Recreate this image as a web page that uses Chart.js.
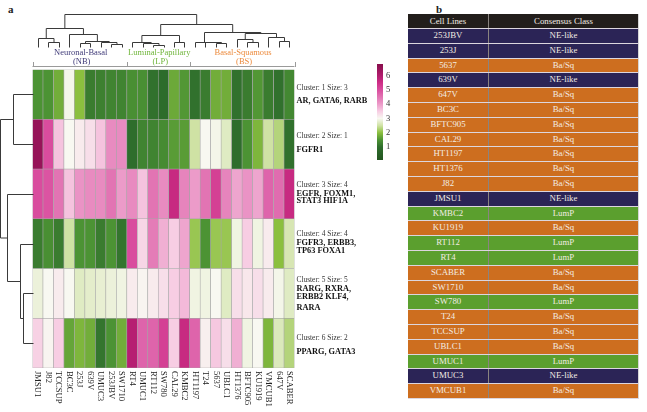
<!DOCTYPE html>
<html>
<head>
<meta charset="utf-8">
<script src="https://cdn.jsdelivr.net/npm/chart.js@4.4.0/dist/chart.umd.min.js"></script>
<style>
  body { margin: 0; width: 647px; height: 412px; background: #fff; position: relative; overflow: hidden; font-family: "Liberation Serif", serif; }
  #heat { position: absolute; left: 0; top: 0; }
  #bar { position: absolute; left: 372px; top: 55px; }
  .panel { position: absolute; font-weight: bold; font-size: 11px; color: #222; }
  #tbl { position: absolute; left: 408px; top: 14px; width: 231px; border-collapse: collapse; font-size: 8.8px; color: #f3ede4; table-layout: fixed; border-right: 1px solid #d6d6d6; }
  #tbl th, #tbl td { padding: 0; text-align: center; font-weight: normal; border-bottom: 1px solid #dcd6de; height: 13.8px; line-height: 13.8px; }
  #tbl th { background: #221e1b; height: 14px; line-height: 14px; }
  #tbl td:first-child, #tbl th:first-child { border-right: 1px solid #8a8480; width: 80px; }
</style>
</head>
<body>
<div class="panel" style="left:8px;top:3px">a</div>
<div class="panel" style="left:436px;top:3px">b</div>
<canvas id="heat" width="410" height="412"></canvas>
<canvas id="bar" width="30" height="115"></canvas>
<table id="tbl"></table>
<script>
'use-strict'

// heatmap columns (dendrogram order)
const cellLines = ['JMSU1', 'J82', 'TCCSUP', 'BC3C', '253J', '639V', 'UMUC3', '253JBV', 'SW1710',
    'RT4', 'UMUC1', 'RT112', 'SW780', 'CAL29', 'KMBC2',
    'HT1197', 'T24', '5637', 'UBLC1', 'HT1376', 'BFTC905', 'KU1919', 'VMCUB1', '647V', 'SCABER']

// one array per gene cluster (row)
const cluster1 = [1.5, 1.5, 1.8, 2.95, 2.0, 1.2, 1.25, 1.3, 1.3, 1.45, 1.45, 1.05, 0.95, 1.75, 1.55, 1.05, 1.2, 1.8, 1.8, 1.05, 1.2, 1.55, 1.2, 1.05, 1.35]
const cluster2 = [6.5, 5.0, 3.6, 3.0, 3.15, 3.3, 3.6, 4.2, 4.2, 1.0, 1.3, 1.3, 1.4, 1.6, 1.6, 2.5, 3.0, 2.95, 2.7, 1.0, 1.5, 1.9, 2.5, 2.3, 1.05]
const cluster3 = [5.0, 4.9, 4.5, 3.6, 4.1, 4.2, 4.2, 4.5, 4.0, 4.2, 3.6, 4.5, 4.2, 5.6, 4.3, 4.0, 4.5, 5.2, 4.3, 3.9, 4.1, 3.9, 4.7, 4.6, 5.6]
const cluster4 = [1.2, 1.45, 1.2, 2.5, 1.5, 1.5, 1.2, 1.5, 1.1, 5.0, 3.4, 4.4, 3.8, 3.5, 3.9, 2.1, 1.5, 2.1, 2.1, 2.9, 3.5, 2.9, 3.15, 2.0, 2.6]
const cluster5 = [2.85, 3.0, 3.15, 3.0, 2.7, 2.75, 2.8, 2.85, 2.9, 3.15, 3.05, 3.15, 3.3, 3.5, 3.7, 2.9, 2.9, 3.0, 2.7, 3.3, 3.2, 3.3, 3.15, 2.95, 2.7]
const cluster6 = [3.45, 3.05, 3.5, 1.7, 1.9, 1.8, 1.1, 1.5, 1.8, 5.9, 4.7, 4.7, 5.2, 3.5, 5.6, 4.7, 3.1, 3.55, 3.3, 3.8, 2.9, 3.0, 1.9, 2.65, 2.3]
const clusters = [cluster1, cluster2, cluster3, cluster4, cluster5, cluster6]

const clusterTitles = ['Cluster: 1 Size: 3', 'Cluster: 2 Size: 1', 'Cluster: 3 Size: 4',
    'Cluster: 4 Size: 4', 'Cluster: 5 Size: 5', 'Cluster: 6 Size: 2']
const clusterGenes = [['AR, GATA6, RARB'], ['FGFR1'], ['EGFR, FOXM1,', 'STAT3 HIF1A'],
    ['FGFR3, ERBB3,', 'TP63 FOXA1'], ['RARG, RXRA,', 'ERBB2 KLF4,', 'RARA'], ['PPARG, GATA3']]

// subtypes over the columns: [first, last, name, short, colour]
const groups = [[0, 8, 'Neuronal-Basal', '(NB)', '#3f3a78'],
    [9, 14, 'Luminal-Papillary', '(LP)', '#6fb53a'],
    [15, 24, 'Basal-Squamous', '(BS)', '#ec8a3c']]

// dendrograms: [height, left, right], leaves are indices
const colTree = [10,
    [5.9, [2.6, 0, [1.5, 1, 2]], [3.8, 3, [1.9, [1.2, 4, 5], [1.5, 6, [0.8, 7, 8]]]]],
    [7, [3.6, [1.6, 9, [1.2, 10, [0.6, 11, 12]]], [1.6, 13, 14]],
        [4.64, [1.6, 15, [1.4, 16, [1.1, 17, 18]]],
            [4.33, [2.3, 19, [1.6, 20, 21]], [2.9, 22, [1.9, 23, 24]]]]]]
const rowTree = [11.3, [6.6, 0, 1], [8.7, 2, [4.3, 3, [3.2, 4, 5]]]]

const colorTicks = [1, 2, 3, 4, 5, 6]
const colorRange = [0.1, 6.8]

// table (panel b)
const tableLines = ['253JBV', '253J', '5637', '639V', '647V', 'BC3C', 'BFTC905', 'CAL29', 'HT1197', 'HT1376',
    'J82', 'JMSU1', 'KMBC2', 'KU1919', 'RT112', 'RT4', 'SCABER', 'SW1710', 'SW780', 'T24',
    'TCCSUP', 'UBLC1', 'UMUC1', 'UMUC3', 'VMCUB1']
const tableClass = ['NE-like', 'NE-like', 'Ba/Sq', 'NE-like', 'Ba/Sq', 'Ba/Sq', 'Ba/Sq', 'Ba/Sq', 'Ba/Sq', 'Ba/Sq',
    'Ba/Sq', 'NE-like', 'LumP', 'Ba/Sq', 'LumP', 'LumP', 'Ba/Sq', 'Ba/Sq', 'LumP', 'Ba/Sq',
    'Ba/Sq', 'Ba/Sq', 'LumP', 'NE-like', 'Ba/Sq']
const classColor = { 'NE-like': '#2b2456', 'Ba/Sq': '#cd6e1f', 'LumP': '#5b9f2e' }

// colour scale
const stops = [[0.1, '#235520'], [1, '#2e6d2c'], [1.5, '#4c9334'], [2, '#8bbf3e'], [2.5, '#cfe2a4'],
    [3, '#f8f8f1'], [3.5, '#f7cde3'], [4, '#ec9bc9'], [4.5, '#e274b3'], [5, '#d94c9e'],
    [5.5, '#cd2d86'], [6, '#b01c6d'], [6.8, '#870e4b']]

const hex = h => [1, 3, 5].map(i => parseInt(h.substr(i, 2), 16))

const colorOf = v => {
    if (v <= stops[0][0]) return stops[0][1]
    for (let i = 1; i < stops.length; i++) {
        if (v <= stops[i][0]) {
            const [v0, c0] = stops[i - 1], [v1, c1] = stops[i]
            const t = (v - v0) / (v1 - v0)
            const a = hex(c0), b = hex(c1)
            return 'rgb(' + a.map((x, k) => Math.round(x + (b[k] - x) * t)).join(',') + ')'
        }
    }
    return stops[stops.length - 1][1]
}

const serif = '"Liberation Serif", serif'

const line = (ctx, x1, y1, x2, y2) => {
    ctx.beginPath()
    ctx.moveTo(x1, y1)
    ctx.lineTo(x2, y2)
    ctx.stroke()
}

// walk a tree, p = position along leaves, q = position along height
const walk = (ctx, n, leafPix, hPix, seg) => {
    if (typeof n == 'number') return { p: leafPix(n), q: hPix(0) }
    const a = walk(ctx, n[1], leafPix, hPix, seg)
    const b = walk(ctx, n[2], leafPix, hPix, seg)
    const q = hPix(n[0])
    seg(a.p, a.q, a.p, q)
    seg(b.p, b.q, b.p, q)
    seg(a.p, q, b.p, q)
    return { p: (a.p + b.p) / 2, q }
}

const decorations = {
    id: 'decorations',
    afterDraw(chart) {
        const { ctx, chartArea } = chart
        const x = chart.scales.x, y = chart.scales.y
        ctx.save()
        ctx.strokeStyle = '#3a3a3a'
        ctx.lineWidth = 1

        // column dendrogram
        walk(ctx, colTree, i => Math.round(x.getPixelForValue(i)) + 0.5, h => Math.round(47 - h * 3.3) + 0.5,
            (a, b, c, d) => line(ctx, a, b, c, d))

        // row dendrogram
        walk(ctx, rowTree, i => Math.round(y.getPixelForValue(i + 0.5)) + 0.5,
            h => Math.round(chartArea.left - h * 2.9) + 0.5,
            (p1, q1, p2, q2) => line(ctx, q1, p1, q2, p2))

        // subtype labels and bracket
        const bx = i => x.getPixelForValue(i)
        ctx.strokeStyle = '#9a9a9a'
        line(ctx, bx(-0.5), 66.5, bx(24.5), 66.5)
        ctx.font = '8.5px ' + serif
        ctx.textAlign = 'center'
        ctx.textBaseline = 'middle'
        groups.forEach(([a, b, name, short, col]) => {
            line(ctx, Math.round(bx(a - 0.5)) + 0.5, 62, Math.round(bx(a - 0.5)) + 0.5, 67)
            line(ctx, Math.round(bx(b + 0.5)) + 0.5, 62, Math.round(bx(b + 0.5)) + 0.5, 67)
            const cx = (bx(a - 0.5) + bx(b + 0.5)) / 2
            ctx.fillStyle = col
            ctx.fillText(name, cx + 1, 52.5)
            ctx.fillText(short, cx + 2, 62)
        })

        // column labels, rotated clockwise
        ctx.fillStyle = '#222'
        ctx.font = '8.6px ' + serif
        ctx.textAlign = 'left'
        cellLines.forEach((name, i) => {
            ctx.save()
            ctx.translate(x.getPixelForValue(i), chartArea.bottom + 3)
            ctx.rotate(Math.PI / 2)
            ctx.fillText(name, 0, 0)
            ctx.restore()
        })

        // cluster texts on the right
        const titleY = [88, 136, 185, 234, 280, 338]
        const geneY = [[100.5], [150], [193.5, 201], [243, 251], [289, 297, 308], [352]]
        titleY.forEach((ty, r) => {
            ctx.fillStyle = '#333'
            ctx.font = '7.4px ' + serif
            ctx.fillText(clusterTitles[r], chartArea.right + 2, ty)
            ctx.fillStyle = '#111'
            ctx.font = 'bold 8.3px ' + serif
            clusterGenes[r].forEach((g, k) => ctx.fillText(g, chartArea.right + 2, geneY[r][k]))
        })
        ctx.restore()
    }
}

new Chart(document.querySelector('#heat').getContext('2d'), {
    type: 'bar',
    data: {
        labels: cellLines,
        datasets: clusters.map(vals => ({
            data: vals.map(() => 1),
            backgroundColor: vals.map(colorOf),
            borderColor: '#a6a6a6',
            borderWidth: 0.6,
            borderSkipped: false,
            barPercentage: 1,
            categoryPercentage: 1
        }))
    },
    options: {
        responsive: false,
        animation: false,
        events: [],
        layout: { padding: { left: 32.5, right: 115.5, top: 69.5, bottom: 44 } },
        plugins: { legend: { display: false }, tooltip: { enabled: false } },
        scales: {
            x: { stacked: true, display: false },
            y: { stacked: true, display: false, reverse: true, min: 0, max: clusters.length }
        }
    },
    plugins: [decorations]
})

// colour bar
new Chart(document.querySelector('#bar').getContext('2d'), {
    type: 'bar',
    data: {
        labels: [''],
        datasets: [{
            data: [colorRange],
            borderWidth: 0,
            barPercentage: 1,
            categoryPercentage: 1,
            backgroundColor: c => {
                const { chart } = c
                if (!chart.chartArea) return null
                const s = chart.scales.y
                const g = chart.ctx.createLinearGradient(0, s.getPixelForValue(colorRange[0]), 0, s.getPixelForValue(colorRange[1]))
                const span = colorRange[1] - colorRange[0]
                stops.forEach(([v, col]) => g.addColorStop((v - colorRange[0]) / span, col))
                return g
            }
        }]
    },
    options: {
        responsive: false,
        animation: false,
        events: [],
        layout: { padding: { left: 5, right: 7, top: 9, bottom: 10 } },
        plugins: { legend: { display: false }, tooltip: { enabled: false } },
        scales: {
            x: { display: false },
            y: {
                position: 'right',
                min: colorRange[0],
                max: colorRange[1],
                grid: { display: false, drawTicks: false },
                border: { display: false },
                afterBuildTicks: s => { s.ticks = colorTicks.map(v => ({ value: v })) },
                afterFit: s => { s.width = 12 },
                ticks: { padding: 3, color: '#333', font: { family: serif, size: 8.5 } }
            }
        }
    }
})

// table
const tbl = document.querySelector('#tbl')
tbl.innerHTML = '<tr><th>Cell Lines</th><th>Consensus Class</th></tr>' +
    tableLines.map((name, i) =>
        `<tr style="background:${classColor[tableClass[i]]}"><td>${name}</td><td>${tableClass[i]}</td></tr>`).join('')
</script>
</body>
</html>
